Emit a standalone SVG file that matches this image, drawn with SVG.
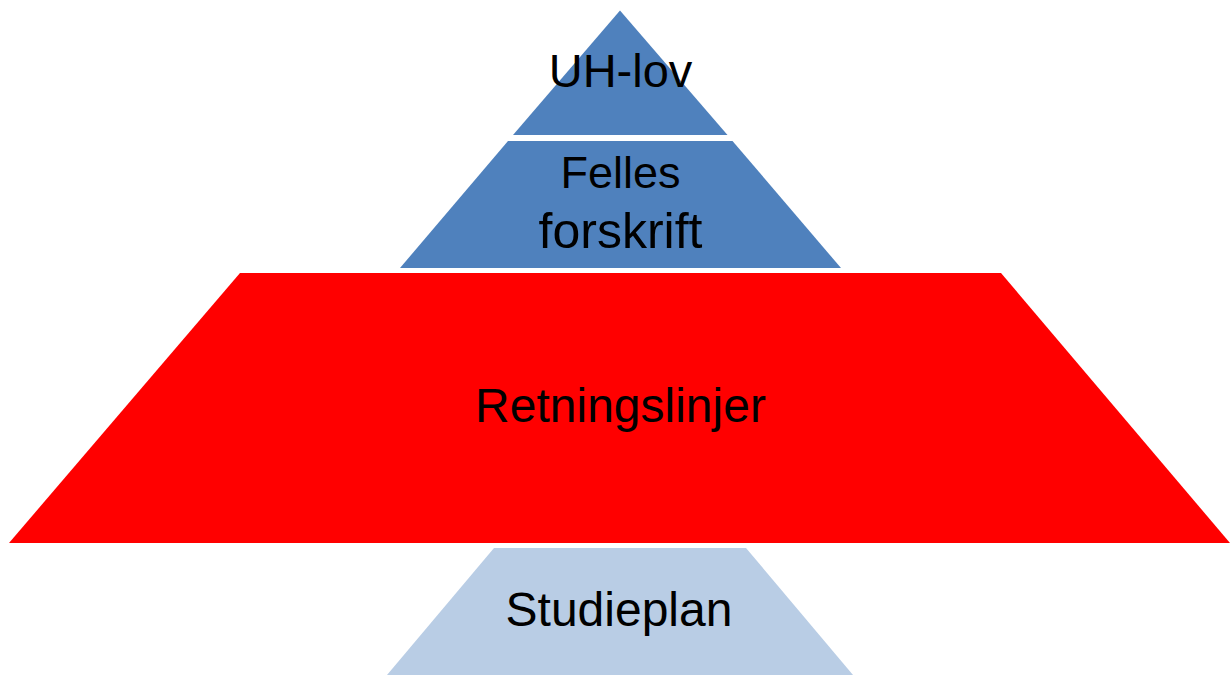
<svg xmlns="http://www.w3.org/2000/svg" width="1230" height="675" viewBox="0 0 1230 675">
<style>
.lbl{font-family:"Liberation Sans",Arial,sans-serif;font-size:48px;fill:#000;text-anchor:middle}
.blue{fill:#4F81BD}
.red{fill:#FF0000}
.light{fill:#B9CDE5}
</style>
<rect width="1230" height="675" fill="#fff"/>
<g id="uh-lov">
<polygon class="blue" points="620,10.5 727.5,135 513,135"/>
<text class="lbl" x="620.5" y="87" style="font-size:47px">UH-lov</text>
</g>
<g id="felles-forskrift">
<polygon class="blue" points="508,141 732.5,141 841,268 400,268"/>
<text class="lbl" x="620.5" y="188" style="font-size:45px">Felles</text>
<text class="lbl" x="620.5" y="248" style="font-size:50px">forskrift</text>
</g>
<g id="retningslinjer">
<polygon class="red" points="240,273 1001,273 1230,543 9,543"/>
<text class="lbl" x="620.5" y="422">Retningslinjer</text>
</g>
<g id="studieplan">
<polygon class="light" points="494,548 746,548 853,675 387,675"/>
<text class="lbl" x="619" y="626">Studieplan</text>
</g>
<g id="connectors"/>
</svg>
